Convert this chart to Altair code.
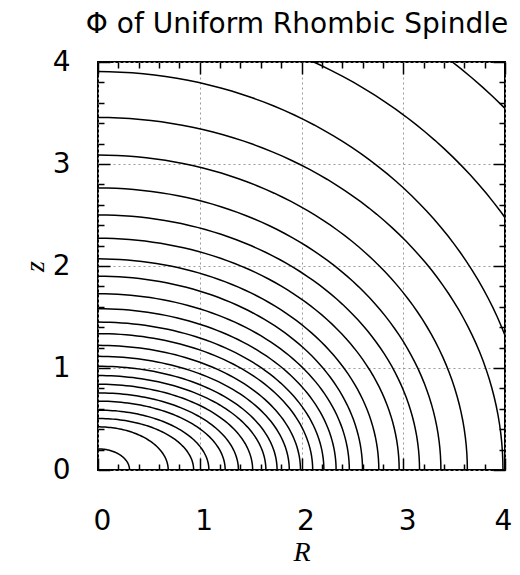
import altair as alt
import numpy as np
import pandas as pd

TITLE = "Φ of Uniform Rhombic Spindle"

# Contours: where each crosses the R axis and the z axis
r_intercepts = [0.31, 0.69, 0.94, 1.09, 1.25, 1.38, 1.52, 1.65, 1.76, 1.88,
                1.99, 2.11, 2.22, 2.34, 2.47, 2.60, 2.76, 2.96, 3.16, 3.37,
                3.63, 3.98, 4.25, 4.81, 5.49]
z_intercepts = [0.207, 0.423, 0.505, 0.587, 0.675, 0.756, 0.841, 0.926, 1.017, 1.114,
                1.222, 1.337, 1.450, 1.581, 1.728, 1.900, 2.070, 2.272, 2.501, 2.765,
                3.088, 3.456, 3.906, 4.456, 5.175]

major_ticks = [0, 1, 2, 3, 4]
minor_ticks = [0, 0.2, 0.4, 0.6, 0.8, 1, 1.2, 1.4, 1.6, 1.8, 2, 2.2, 2.4, 2.6, 2.8,
               3, 3.2, 3.4, 3.6, 3.8, 4]

# quarter-ellipse geometry through each pair of intercepts
angles = np.linspace(0, np.pi / 2, 61)
rows = []
for i, (a, b) in enumerate(zip(r_intercepts, z_intercepts)):
    for k, t in enumerate(angles):
        rows.append({"contour": i, "k": k, "R": a * np.cos(t), "z": b * np.sin(t)})
df = pd.DataFrame(rows)

W, H = 407, 408
xs = alt.Scale(domain=[0, 4], nice=False, zero=False)
ys = alt.Scale(domain=[0, 4], nice=False, zero=False)

tick_size = {"condition": {"test": "abs(datum.value - round(datum.value)) < 0.001", "value": 12}, "value": 6}
x_label_offset = {"condition": {"test": "datum.value >= 4", "value": -2}, "value": 4}

base = alt.Chart(df)

lines = base.mark_line(color="black", strokeWidth=1.5, clip=True).encode(
    x=alt.X("R:Q", scale=xs, axis=alt.Axis(
        orient="bottom", values=major_ticks, ticks=False, domain=False,
        grid=True, gridColor="#9a9a9a", gridDash=[2, 3], gridWidth=1,
        labelFont="DejaVu Sans", labelFontSize=28, labelColor="black",
        labelPadding=37, labelOffset=x_label_offset, labelFlush=False,
        labelOverlap=False, labelBaseline="top",
        title="R", titleFont="Liberation Serif", titleFontStyle="italic",
        titleFontWeight="normal", titleFontSize=28, titleColor="black",
        titleY=90, titleBaseline="alphabetic")),
    y=alt.Y("z:Q", scale=ys, axis=alt.Axis(
        orient="left", values=major_ticks, ticks=False, domain=False,
        grid=True, gridColor="#9a9a9a", gridDash=[2, 3], gridWidth=1,
        labelFont="DejaVu Sans", labelFontSize=28, labelColor="black",
        labelPadding=28, labelFlush=False, labelOverlap=False,
        title="z", titleFont="Liberation Serif", titleFontStyle="italic",
        titleFontWeight="normal", titleFontSize=28, titleColor="black",
        titleAngle=270, titleX=-63, titleY=204, titleAlign="center",
        titleBaseline="middle")),
    detail="contour:N",
    order="k:Q",
)

def tick_axis(orient, offset):
    return alt.Axis(orient=orient, offset=offset, values=minor_ticks, labels=False,
                    domain=False, grid=False, ticks=True, tickSize=tick_size,
                    tickColor="black", tickWidth=1.5, title=None)

inner1 = base.mark_point(opacity=0).encode(
    x=alt.X("R:Q", scale=xs, axis=tick_axis("top", -H)),
    y=alt.Y("z:Q", scale=ys, axis=tick_axis("right", -W)),
)
inner2 = base.mark_point(opacity=0).encode(
    x=alt.X("R:Q", scale=xs, axis=tick_axis("bottom", -H)),
    y=alt.Y("z:Q", scale=ys, axis=tick_axis("left", -W)),
)

title_text = alt.Chart(pd.DataFrame({"t": [TITLE]})).mark_text(
    font="DejaVu Sans", fontSize=28, color="black", align="center",
    baseline="alphabetic", clip=False,
).encode(text="t:N", x=alt.value(199), y=alt.value(-29))

chart = alt.layer(lines, inner1, inner2, title_text).resolve_axis(
    x="independent", y="independent"
).properties(
    width=W, height=H,
    autosize=alt.AutoSizeParams(type="none"),
    padding={"left": 90, "top": 54, "right": 7, "bottom": 97},
).configure_view(stroke="black", strokeWidth=2)

chart.save("out.html", embed_options={"renderer": "svg", "actions": False})
